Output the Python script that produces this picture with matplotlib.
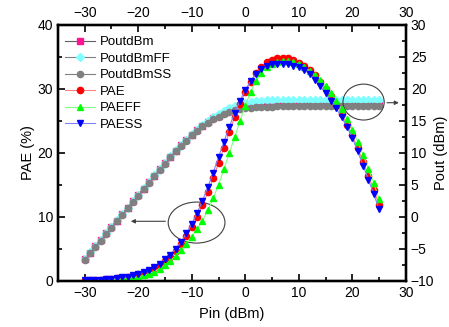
import numpy as np
import matplotlib
matplotlib.use("Agg")
import matplotlib.pyplot as plt
from matplotlib.patches import Ellipse

plt.rcParams['font.family'] = ['Liberation Sans', 'DejaVu Sans']

# input power sweep (dBm)
pin = np.arange(-30, 26)

# output power (dBm), right axis
pout = [-6.6, -5.6, -4.6, -3.6, -2.6, -1.6, -0.6, 0.4, 1.4, 2.4,
        3.4, 4.4, 5.4, 6.4, 7.4, 8.4, 9.4, 10.3, 11.2, 12.0,
        12.8, 13.5, 14.2, 14.8, 15.4, 15.8, 16.25, 16.6, 16.9, 17.15,
        17.3, 17.4, 17.5, 17.55, 17.6, 17.6, 17.65, 17.65, 17.65, 17.65,
        17.65, 17.65, 17.7, 17.7, 17.7, 17.7, 17.7, 17.7, 17.7, 17.7,
        17.7, 17.7, 17.7, 17.7, 17.7, 17.7]
pout_ff = [-6.55, -5.55, -4.55, -3.55, -2.55, -1.55, -0.55, 0.45, 1.45, 2.45,
           3.45, 4.45, 5.45, 6.45, 7.45, 8.45, 9.45, 10.35, 11.25, 12.05,
           12.85, 13.6, 14.3, 15.0, 15.6, 16.1, 16.55, 16.95, 17.3, 17.55,
           17.75, 17.9, 18.0, 18.1, 18.15, 18.2, 18.2, 18.2, 18.2, 18.2,
           18.2, 18.2, 18.2, 18.2, 18.2, 18.2, 18.2, 18.2, 18.2, 18.2,
           18.2, 18.2, 18.2, 18.2, 18.2, 18.2]
pout_ss = [-6.7, -5.7, -4.7, -3.7, -2.7, -1.7, -0.7, 0.3, 1.3, 2.3,
           3.3, 4.3, 5.3, 6.3, 7.3, 8.3, 9.3, 10.2, 11.1, 11.9,
           12.7, 13.4, 14.1, 14.7, 15.2, 15.6, 16.0, 16.3, 16.6, 16.8,
           16.95, 17.05, 17.1, 17.15, 17.2, 17.2, 17.25, 17.25, 17.25, 17.25,
           17.25, 17.25, 17.25, 17.25, 17.25, 17.3, 17.3, 17.3, 17.3, 17.3,
           17.3, 17.3, 17.3, 17.3, 17.3, 17.3]

# power added efficiency (%), left axis
pae = [0.1, 0.13, 0.16, 0.2, 0.25, 0.32, 0.4, 0.5, 0.63, 0.8,
       1.0, 1.25, 1.55, 1.95, 2.45, 3.05, 3.8, 4.7, 5.8, 7.0,
       8.4, 10.0, 11.8, 13.8, 16.0, 18.4, 20.8, 23.2, 25.5, 27.6,
       29.5, 31.1, 32.4, 33.4, 34.1, 34.5, 34.7, 34.8, 34.7, 34.4,
       34.0, 33.5, 32.9, 32.1, 31.1, 30.0, 28.8, 27.5, 26.0, 24.4,
       22.7, 20.7, 18.6, 16.4, 14.2, 11.9]
pae_ff = [0.05, 0.06, 0.08, 0.1, 0.13, 0.17, 0.22, 0.29, 0.38, 0.5,
          0.65, 0.85, 1.1, 1.45, 1.9, 2.45, 3.1, 3.9, 4.8, 5.8,
          6.9, 8.1, 9.4, 11.0, 12.9, 15.0, 17.4, 19.9, 22.4, 24.9,
          27.3, 29.5, 31.2, 32.5, 33.4, 33.9, 34.2, 34.3, 34.3, 34.1,
          33.8, 33.4, 32.8, 32.1, 31.3, 30.4, 29.3, 28.1, 26.8, 25.3,
          23.6, 21.7, 19.7, 17.5, 15.2, 12.8]
pae_ss = [0.1, 0.13, 0.17, 0.21, 0.27, 0.34, 0.43, 0.54, 0.68, 0.86,
          1.08, 1.35, 1.7, 2.15, 2.7, 3.35, 4.1, 5.0, 6.1, 7.4,
          8.9, 10.6, 12.5, 14.6, 16.9, 19.3, 21.7, 24.0, 26.2, 28.1,
          29.8, 31.2, 32.3, 33.0, 33.5, 33.8, 33.9, 33.9, 33.8, 33.6,
          33.3, 32.9, 32.3, 31.4, 30.4, 29.3, 28.1, 26.9, 25.5, 24.0,
          22.3, 20.2, 18.0, 15.8, 13.5, 11.2]

fig = plt.figure(figsize=(4.49, 3.27), dpi=100)
ax = fig.add_axes([0.129, 0.141, 0.775, 0.784])
ax2 = ax.twinx()
ax3 = ax.twiny()

ms = 4.5
lw = 0.8
h = []
h += ax2.plot(pin, pout, '-s', color='#606060', mfc='#FF1493', mec='#FF1493', ms=ms - 0.5, lw=lw, label='PoutdBm')
h += ax2.plot(pin, pout_ff, '-D', color='#808080', mfc='#7FFFFF', mec='#7FFFFF', ms=ms - 0.5, lw=lw, label='PoutdBmFF')
h += ax2.plot(pin, pout_ss, '-o', color='#808080', mfc='#808080', mec='#808080', ms=ms, lw=lw, label='PoutdBmSS')
h += ax.plot(pin, pae, '-o', color='#FF8080', mfc='red', mec='red', ms=ms, lw=lw, label='PAE')
h += ax.plot(pin, pae_ff, '-^', color='#80FF80', mfc='#00FF00', mec='#00FF00', ms=ms + 0.5, lw=lw, label='PAEFF')
h += ax.plot(pin, pae_ss, '-v', color='#8080FF', mfc='blue', mec='blue', ms=ms + 0.5, lw=lw, label='PAESS')

ax.set_zorder(ax2.zorder + 1)
ax.patch.set_visible(False)

ax.set_xlim(-35, 30)
ax.set_ylim(0, 40)
ax2.set_ylim(-10, 30)
ax3.set_xlim(-35, 30)

ax.set_xticks(np.arange(-30, 31, 10))
ax.set_xticks(np.arange(-35, 31, 5), minor=True)
ax3.set_xticks(np.arange(-30, 31, 10))
ax3.set_xticks(np.arange(-35, 31, 5), minor=True)
ax.set_yticks(np.arange(0, 41, 10))
ax.set_yticks(np.arange(0, 41, 5), minor=True)
ax2.set_yticks(np.arange(-10, 31, 5))
ax2.set_yticks(np.arange(-10, 31, 2.5), minor=True)

for a in (ax, ax2, ax3):
    a.tick_params(which='both', direction='in', labelsize=10, width=1.2)
    a.tick_params(which='major', length=5)
    a.tick_params(which='minor', length=3)
    for s in a.spines.values():
        s.set_linewidth(1.6)
ax.tick_params(which='both', top=False, right=False)

ax.set_xlabel('Pin (dBm)', fontsize=10.5, labelpad=5)
ax.set_ylabel('PAE (%)', fontsize=10.5, labelpad=2)
ax2.set_ylabel('Pout (dBm)', fontsize=10.5, labelpad=0)

# highlight ellipses with arrows pointing to the matching axis
ax.add_patch(Ellipse((-9.1, 9.1), 10.6, 6.4, fill=False, ec='#404040', lw=0.8))
ax.annotate('', xy=(-21.9, 9.3), xytext=(-14.4, 9.3),
            arrowprops=dict(arrowstyle='-|>', color='#404040', lw=0.8, mutation_scale=6))
ax.add_patch(Ellipse((22.1, 27.9), 7.7, 5.6, fill=False, ec='#404040', lw=0.8))
ax.annotate('', xy=(29.2, 27.8), xytext=(25.95, 27.8),
            arrowprops=dict(arrowstyle='-|>', color='#404040', lw=0.8, mutation_scale=6))

ax.legend(handles=h, loc='upper left', bbox_to_anchor=(0.006, 0.975), frameon=False,
          fontsize=9.5, handlelength=2.25, labelspacing=0.32, borderaxespad=0,
          handletextpad=0.38)

fig.savefig('out.png', dpi=100)
